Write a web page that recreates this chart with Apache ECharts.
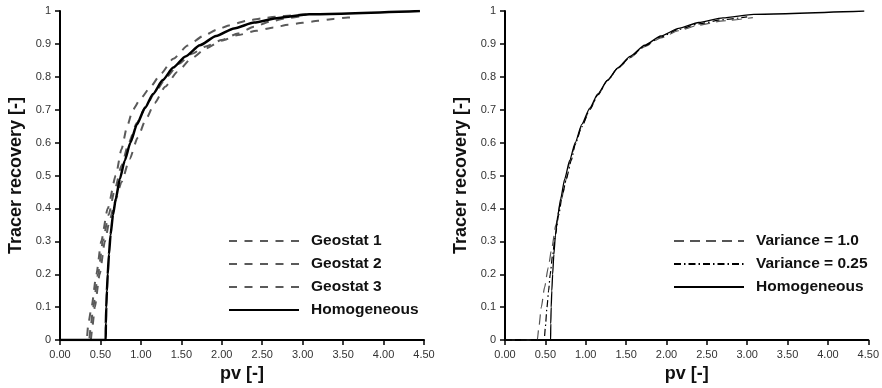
<!DOCTYPE html>
<html>
<head>
<meta charset="utf-8">
<script src="https://cdn.jsdelivr.net/npm/echarts@6/dist/echarts.min.js"></script>
<style>
  html, body { margin: 0; padding: 0; background: #fff; }
  #chart { width: 882px; height: 388px; }
</style>
</head>
<body>
<div id="chart"></div>
<script>
// Tracer recovery versus pore volumes injected

// Homogeneous reference case (both panels)
const homX = [0, 0.565, 0.567, 0.572, 0.58, 0.59, 0.605, 0.625, 0.655, 0.69, 0.74, 0.8, 0.87, 0.95, 1.05, 1.15, 1.27, 1.4, 1.55, 1.73, 1.93, 2.15, 2.4, 2.7, 3.08, 4.45];
const homY = [0, 0, 0.05, 0.1, 0.15, 0.2, 0.26, 0.32, 0.38, 0.43, 0.49, 0.545, 0.6, 0.655, 0.705, 0.748, 0.79, 0.828, 0.862, 0.896, 0.924, 0.947, 0.965, 0.979, 0.99, 1.0];

// Geostatistical realisations (left panel)
const geo1X = [0, 0.33, 0.35, 0.39, 0.45, 0.51, 0.59, 0.69, 0.76, 0.83, 0.9, 1.0, 1.12, 1.25, 1.4, 1.58, 1.77, 1.94, 2.1, 2.3, 2.5, 2.75, 3.0, 3.1];
const geo1Y = [0, 0, 0.05, 0.1, 0.2, 0.3, 0.4, 0.5, 0.58, 0.65, 0.7, 0.735, 0.77, 0.81, 0.855, 0.895, 0.924, 0.943, 0.957, 0.97, 0.978, 0.985, 0.989, 0.99];

const geo2X = [0, 0.36, 0.38, 0.41, 0.47, 0.53, 0.6, 0.68, 0.76, 0.85, 0.95, 1.06, 1.18, 1.32, 1.47, 1.63, 1.8, 2.0, 2.2, 2.4, 2.6, 2.8, 3.0];
const geo2Y = [0, 0, 0.04, 0.1, 0.2, 0.3, 0.38, 0.46, 0.53, 0.6, 0.66, 0.71, 0.755, 0.8, 0.84, 0.87, 0.892, 0.912, 0.932, 0.952, 0.968, 0.978, 0.985];

const geo3X = [0, 0.38, 0.40, 0.43, 0.49, 0.555, 0.61, 0.68, 0.76, 0.86, 0.96, 1.06, 1.17, 1.3, 1.45, 1.62, 1.81, 2.0, 2.2, 2.43, 2.64, 2.82, 3.0, 3.19, 3.38, 3.56, 3.65];
const geo3Y = [0, 0, 0.04, 0.1, 0.2, 0.3, 0.36, 0.42, 0.48, 0.55, 0.615, 0.67, 0.72, 0.77, 0.815, 0.855, 0.887, 0.91, 0.927, 0.94, 0.95, 0.958, 0.964, 0.97, 0.976, 0.98, 0.981];

// Permeability variance cases (right panel)
const var10X = [0, 0.40, 0.42, 0.45, 0.49, 0.535, 0.58, 0.63, 0.69, 0.76, 0.8, 0.87, 0.95, 1.05, 1.15, 1.27, 1.4, 1.55, 1.73, 1.93, 2.15, 2.4, 2.7, 3.07];
const var10Y = [0, 0, 0.04, 0.1, 0.16, 0.22, 0.28, 0.35, 0.42, 0.49, 0.54, 0.595, 0.65, 0.7, 0.745, 0.788, 0.826, 0.858, 0.892, 0.918, 0.94, 0.957, 0.97, 0.98];

const var025X = [0, 0.486, 0.5, 0.52, 0.54, 0.56, 0.59, 0.625, 0.665, 0.71, 0.76, 0.82, 0.87, 0.95, 1.05, 1.15, 1.27, 1.4, 1.55, 1.73, 1.93, 2.15, 2.4, 2.7, 3.0];
const var025Y = [0, 0, 0.04, 0.1, 0.15, 0.2, 0.26, 0.32, 0.38, 0.44, 0.49, 0.545, 0.595, 0.648, 0.7, 0.745, 0.789, 0.827, 0.86, 0.894, 0.921, 0.944, 0.961, 0.974, 0.982];

// Axis ticks
const xTicks = ['0.00', '0.50', '1.00', '1.50', '2.00', '2.50', '3.00', '3.50', '4.00', '4.50'];
const yTicks = ['0', '0.1', '0.2', '0.3', '0.4', '0.5', '0.6', '0.7', '0.8', '0.9', '1'];

const zip = (xs, ys) => xs.map((x, i) => [x, ys[i]]);

const FONT = '"Liberation Sans", Arial, Helvetica, sans-serif';

function xAxis(idx) {
  return {
    type: 'value', gridIndex: idx, min: 0, max: 4.5, interval: 0.5,
    name: 'pv [-]', nameLocation: 'middle', nameGap: 20,
    nameTextStyle: { fontFamily: FONT, fontWeight: 'bold', fontSize: 18, color: '#111' },
    axisLine: { show: true, onZero: false, lineStyle: { color: '#000', width: 2 } },
    axisTick: { show: true, length: 5, lineStyle: { color: '#000', width: 1.5 } },
    axisLabel: { margin: 9, fontFamily: FONT, fontSize: 11, color: '#333',
      formatter: v => xTicks[Math.round(v / 0.5)] },
    splitLine: { show: false }
  };
}
function yAxis(idx) {
  return {
    type: 'value', gridIndex: idx, min: 0, max: 1, interval: 0.1,
    name: 'Tracer recovery [-]', nameLocation: 'middle', nameGap: 35,
    nameTextStyle: { fontFamily: FONT, fontWeight: 'bold', fontSize: 18, color: '#111' },
    axisLine: { show: true, onZero: false, lineStyle: { color: '#000', width: 2 } },
    axisTick: { show: true, length: 5, lineStyle: { color: '#000', width: 1.5 } },
    axisLabel: { margin: 9, fontFamily: FONT, fontSize: 11, color: '#333',
      formatter: v => yTicks[Math.round(v / 0.1)] },
    splitLine: { show: false }
  };
}

function line(name, xs, ys, idx, color, width, dash, z) {
  return {
    name, type: 'line', xAxisIndex: idx, yAxisIndex: idx,
    data: zip(xs, ys), symbol: 'none', smooth: 0.2, smoothMonotone: 'x',
    lineStyle: { color, width, type: dash },
    itemStyle: { color }, z, animation: false
  };
}

const legendText = { fontFamily: FONT, fontWeight: 'bold', fontSize: 15.5, color: '#111', padding: [0, 0, 0, 7] };
const legendBase = {
  orient: 'vertical', top: 228, itemWidth: 70, itemHeight: 14, itemGap: 7,
  textStyle: legendText, selectedMode: false,
  itemStyle: { opacity: 0 }
};

const chart = echarts.init(document.getElementById('chart'), null, { renderer: 'canvas' });
chart.setOption({
  animation: false,
  backgroundColor: '#fff',
  grid: [
    { left: 60, top: 11, width: 364, height: 332 },
    { left: 505, top: 11, width: 364, height: 332 }
  ],
  xAxis: [xAxis(0), xAxis(1)],
  yAxis: [yAxis(0), yAxis(1)],
  legend: [
    Object.assign({}, legendBase, { left: 223, data: ['Geostat 1', 'Geostat 2', 'Geostat 3', 'Homogeneous'] }),
    Object.assign({}, legendBase, { left: 668, data: ['Variance = 1.0', 'Variance = 0.25', 'Homogeneous '] })
  ],
  series: [
    line('Geostat 1', geo1X, geo1Y, 0, '#5a5a5a', 2, [8, 7.5], 2),
    line('Geostat 2', geo2X, geo2Y, 0, '#5a5a5a', 2, [8, 7.5], 2),
    line('Geostat 3', geo3X, geo3Y, 0, '#5a5a5a', 2, [8, 7.5], 2),
    line('Homogeneous', homX, homY, 0, '#000', 2.5, 'solid', 3),
    line('Variance = 1.0', var10X, var10Y, 1, '#555', 1.2, [10, 6], 2),
    line('Variance = 0.25', var025X, var025Y, 1, '#000', 1.2, [7, 3, 1.5, 3], 2),
    line('Homogeneous ', homX, homY, 1, '#000', 1.3, 'solid', 3)
  ]
});
</script>
</body>
</html>
